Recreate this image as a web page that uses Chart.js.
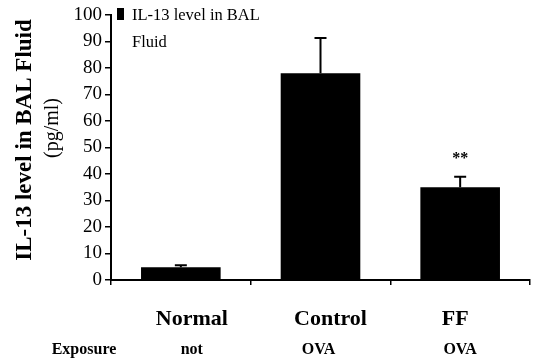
<!DOCTYPE html>
<html>
<head>
<meta charset="utf-8">
<script src="https://cdn.jsdelivr.net/npm/chart.js@4.4.1/dist/chart.umd.min.js"></script>
<style>
  html, body { margin: 0; padding: 0; background: #fff; }
</style>
</head>
<body>
<canvas id="il13Chart" width="534" height="360"></canvas>
<script>
// Values
const groups = ["Normal", "Control", "FF"];
const exposure = ["not", "OVA", "OVA"];
const il13Level = [4.8, 78, 35];
const il13Error = [0.8, 13.3, 4];
const significance = ["", "", "**"];
const legendLines = ["IL-13 level in BAL", "Fluid"];

const serif = "'Liberation Serif', 'Times New Roman', serif";
// small horizontal nudges so the labels sit where the scanned figure has them
const groupNudge = [11, 10, -5];
const exposureNudge = [11, -2, 0];

// Error bars, stars, legend and the text rows below the axis
const extrasPlugin = {
    id: "extras",
    afterDatasetsDraw(chart) {
        const ctx = chart.ctx;
        const y = chart.scales.y;
        const meta = chart.getDatasetMeta(0);
        ctx.save();
        ctx.strokeStyle = "#000";
        ctx.fillStyle = "#000";
        ctx.lineWidth = 2;
        meta.data.forEach((bar, i) => {
            let top = y.getPixelForValue(il13Level[i] + il13Error[i]);
            ctx.beginPath();
            ctx.moveTo(bar.x, bar.y);
            ctx.lineTo(bar.x, top);
            ctx.moveTo(bar.x - 6, top);
            ctx.lineTo(bar.x + 6, top);
            ctx.stroke();
            if (significance[i]) {
                ctx.font = "bold 16px " + serif;
                ctx.textAlign = "center";
                ctx.textBaseline = "bottom";
                ctx.fillText(significance[i], bar.x, top - 10);
            }
        });
        ctx.restore();
    },
    afterDraw(chart) {
        const ctx = chart.ctx;
        const area = chart.chartArea;
        const x = chart.scales.x;
        ctx.save();
        ctx.fillStyle = "#000";

        // legend
        ctx.fillRect(area.left + 6, 8, 7, 12);
        ctx.font = "16.5px " + serif;
        ctx.textAlign = "left";
        ctx.textBaseline = "alphabetic";
        ctx.fillText(legendLines[0], area.left + 21, 20);
        ctx.fillText(legendLines[1], area.left + 21, 47);

        // y axis title
        ctx.save();
        ctx.translate(25, 140);
        ctx.rotate(-Math.PI / 2);
        ctx.textAlign = "center";
        ctx.textBaseline = "middle";
        ctx.font = "bold 23px " + serif;
        ctx.fillText("IL-13 level in BAL Fluid", 0, 0);
        ctx.font = "20px " + serif;
        ctx.fillText("(pg/ml)", 12, 28);
        ctx.restore();

        // group names and exposure row
        ctx.textAlign = "center";
        ctx.textBaseline = "middle";
        groups.forEach((g, i) => {
            let cx = x.getPixelForValue(i);
            ctx.font = "bold 22px " + serif;
            ctx.fillText(g, cx + groupNudge[i], 319);
            ctx.font = "bold 16px " + serif;
            ctx.fillText(exposure[i], cx + exposureNudge[i], 350);
        });
        ctx.font = "bold 16px " + serif;
        ctx.fillText("Exposure", 84, 350);
        ctx.restore();
    }
};

new Chart(document.getElementById("il13Chart"), {
    type: "bar",
    data: {
        labels: groups,
        datasets: [{
            label: legendLines.join(" "),
            data: il13Level,
            backgroundColor: "#000",
            borderWidth: 0,
            categoryPercentage: 1,
            barPercentage: 0.57
        }]
    },
    options: {
        responsive: false,
        animation: false,
        layout: { padding: { top: 15, right: 4, left: 0, bottom: 0 } },
        plugins: {
            legend: { display: false },
            tooltip: { enabled: false }
        },
        scales: {
            x: {
                ticks: { display: false },
                grid: { drawOnChartArea: false, tickLength: 5, color: "#000", lineWidth: 1.5 },
                border: { color: "#000", width: 2 },
                afterFit: (scale) => { scale.height = 80; }
            },
            y: {
                min: 0,
                max: 100,
                ticks: {
                    stepSize: 10,
                    color: "#000",
                    padding: 3,
                    font: { family: serif, size: 19 }
                },
                grid: { drawOnChartArea: false, tickLength: 6, color: "#000", lineWidth: 1.5 },
                border: { color: "#000", width: 2 },
                afterFit: (scale) => { scale.width = 111; }
            }
        }
    },
    plugins: [extrasPlugin]
});
</script>
</body>
</html>
